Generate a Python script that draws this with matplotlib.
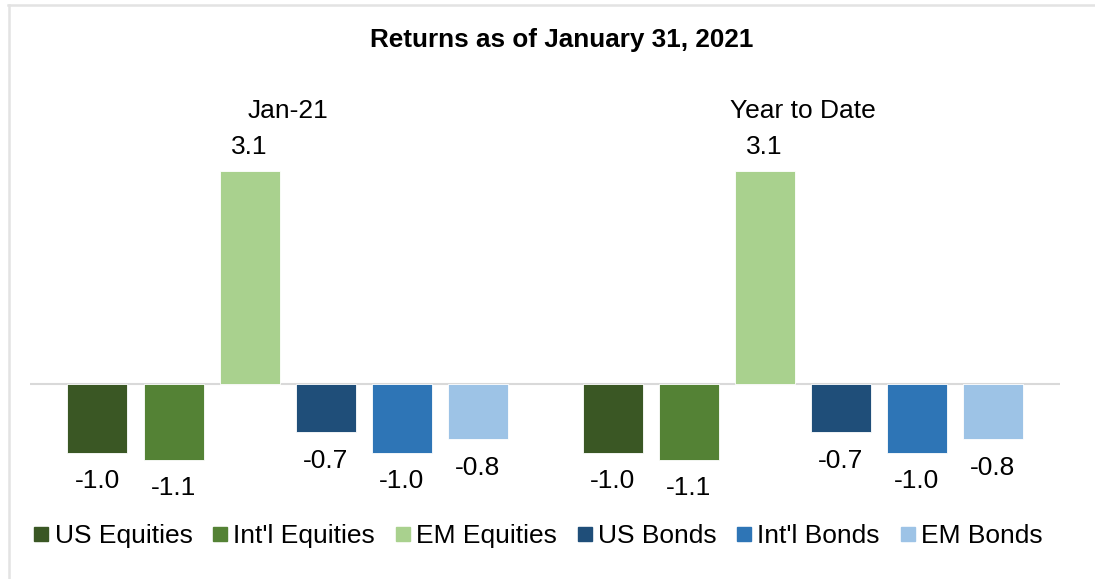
import matplotlib.pyplot as plt
import numpy as np
from matplotlib.lines import Line2D

plt.rcParams['font.family'] = ['Liberation Sans', 'DejaVu Sans']

periods = ["Jan-21", "Year to Date"]
series = ["US Equities", "Int'l Equities", "EM Equities",
          "US Bonds", "Int'l Bonds", "EM Bonds"]
values = {
    "US Equities":    [-1.0, -1.0],
    "Int'l Equities": [-1.1, -1.1],
    "EM Equities":    [3.1, 3.1],
    "US Bonds":       [-0.7, -0.7],
    "Int'l Bonds":    [-1.0, -1.0],
    "EM Bonds":       [-0.8, -0.8],
}
colors = ["#3A5724", "#548235", "#A9D18E", "#1F4E79", "#2E75B6", "#9DC3E6"]

fig = plt.figure(figsize=(10.95, 5.79), dpi=100)
ax = fig.add_axes([30 / 1095, 1 - 500 / 579, 1030 / 1095, 400 / 579])

x = np.arange(len(periods))
pitch = 76 / 515
width = 60 / 515
for i, (name, c) in enumerate(zip(series, colors)):
    pos = x + (i - 2.5) * pitch
    vals = values[name]
    ax.bar(pos, vals, width, color=c, edgecolor="white", linewidth=0.6, zorder=2)
    for px, v in zip(pos, vals):
        if v >= 0:
            ax.annotate(f"{v:.1f}", (px, v), xytext=(0, 9), textcoords="offset points",
                        ha="center", va="bottom", fontsize=19)
        else:
            ax.annotate(f"{v:.1f}", (px, v), xytext=(0, -12), textcoords="offset points",
                        ha="center", va="top", fontsize=19)

ax.axhline(0, color="#D9D9D9", linewidth=1.5, zorder=1)
ax.set_xlim(-0.5, 1.5)
ax.set_ylim(-(500 - 384) / 68.7, (384 - 100) / 68.7)
ax.axis("off")

# category labels sit above the plot
for xi, p in zip(x, periods):
    ax.text(xi, 3.97, p, ha="center", va="center", fontsize=19)

fig.text(562 / 1095, 1 - 40 / 579, "Returns as of January 31, 2021",
         ha="center", va="center", fontsize=18.8, fontweight="bold")

handles = [Line2D([], [], marker="s", linestyle="none", markersize=10, color=c)
           for c in colors]
fig.legend(handles, series, loc="center", bbox_to_anchor=(538 / 1095, 1 - 536 / 579),
           ncol=6, frameon=False, fontsize=19, handlelength=0.6, handletextpad=0.2,
           columnspacing=0.75, borderaxespad=0)

# light frame (only top and left edges visible in the original crop)
fig.add_artist(Line2D([8 / 1095, 1], [1 - 4.5 / 579] * 2, color="#E3E3E3", linewidth=1.8))
fig.add_artist(Line2D([9 / 1095] * 2, [0, 1 - 4.5 / 579], color="#E3E3E3", linewidth=1.8))

fig.savefig("out.png", dpi=100)
